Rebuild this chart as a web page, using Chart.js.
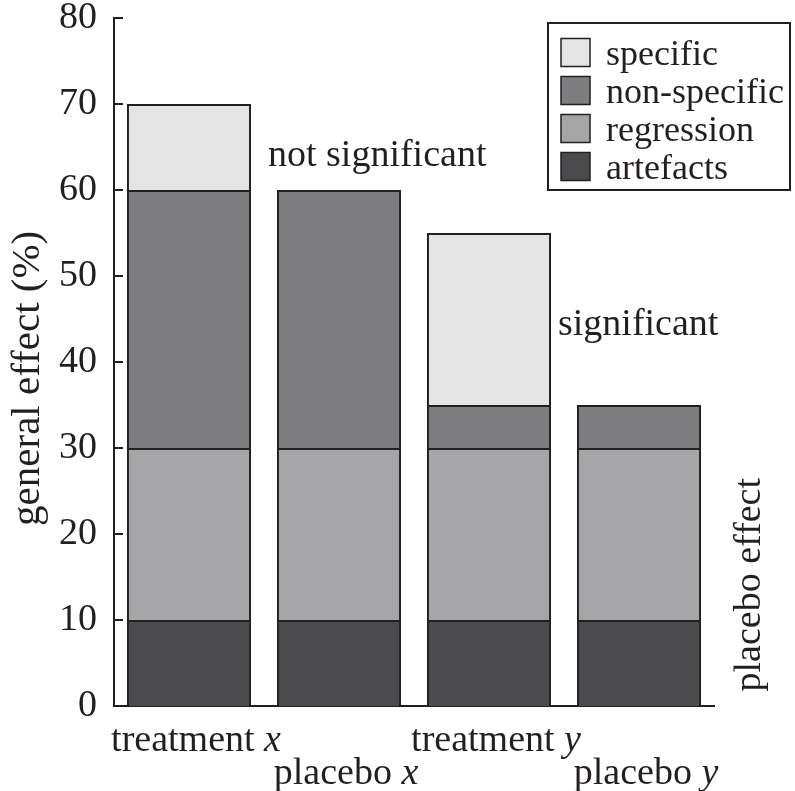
<!DOCTYPE html>
<html>
<head>
<meta charset="utf-8">
<script src="https://cdn.jsdelivr.net/npm/chart.js@4.4.1/dist/chart.umd.min.js"></script>
<style>
  body { margin: 0; background: #fff; }
  #wrap { width: 795px; height: 791px; }
</style>
</head>
<body>
<div id="wrap"><canvas id="myChart" width="795" height="791"></canvas></div>
<script>
// data
const categories = ['treatment', 'placebo', 'treatment', 'placebo']
const categoryVars = ['x', 'x', 'y', 'y']
const artefacts = [10, 10, 10, 10]
const regression = [20, 20, 20, 20]
const nonSpecific = [30, 30, 5, 5]
const specific = [10, 0, 20, 0]
const yTicks = [0, 10, 20, 30, 40, 50, 60, 70, 80]

const ink = '#231f20'
const serif = "'Liberation Serif', 'Times New Roman', serif"
const fontSize = 38

// little italic helper for "treatment x"
function drawLabel(ctx, word, v, cx, y) {
  ctx.font = fontSize + 'px ' + serif
  const w1 = ctx.measureText(word + ' ').width
  ctx.font = 'italic ' + fontSize + 'px ' + serif
  const w2 = ctx.measureText(v).width
  let x = cx - (w1 + w2) / 2
  ctx.font = fontSize + 'px ' + serif
  ctx.fillText(word + ' ', x, y)
  ctx.font = 'italic ' + fontSize + 'px ' + serif
  ctx.fillText(v, x + w1, y)
}

const extras = {
  id: 'extras',
  afterDraw(chart) {
    const ctx = chart.ctx
    const area = chart.chartArea
    const xs = chart.scales.x
    const ys = chart.scales.y
    ctx.save()
    ctx.fillStyle = ink
    ctx.strokeStyle = ink
    ctx.textBaseline = 'alphabetic'

    // inward ticks on y axis
    ctx.lineWidth = 2
    yTicks.forEach(t => {
      const py = ys.getPixelForValue(t)
      ctx.beginPath()
      ctx.moveTo(area.left, py)
      ctx.lineTo(area.left + 9, py)
      ctx.stroke()
    })

    // category labels, staggered
    categories.forEach((c, i) => {
      const cx = xs.getPixelForValue(i) + 7
      const y = area.bottom + (i % 2 === 0 ? 45 : 78)
      drawLabel(ctx, c, categoryVars[i], cx, y)
    })

    // annotations
    ctx.font = fontSize + 'px ' + serif
    ctx.textAlign = 'left'
    ctx.fillText('not significant', 268, ys.getPixelForValue(62.8))
    ctx.fillText('significant', 558, ys.getPixelForValue(43.1))

    ctx.save()
    ctx.translate(760, ys.getPixelForValue(14.1))
    ctx.rotate(-Math.PI / 2)
    ctx.textAlign = 'center'
    ctx.fillText('placebo effect', 0, 0)
    ctx.restore()

    // y title
    ctx.save()
    ctx.font = '41px ' + serif
    ctx.translate(39, ys.getPixelForValue(38.1))
    ctx.rotate(-Math.PI / 2)
    ctx.textAlign = 'center'
    ctx.fillText('general effect (%)', 0, 0)
    ctx.restore()

    // legend
    ctx.font = '36px ' + serif
    const lx = 548, ly = 23, lw = 242, lh = 167
    ctx.fillStyle = '#fff'
    ctx.fillRect(lx, ly, lw, lh)
    ctx.lineWidth = 2
    ctx.strokeRect(lx, ly, lw, lh)
    const ds = chart.data.datasets.slice().reverse()
    ds.forEach((d, i) => {
      const ry = ly + 29.5 + i * 38
      ctx.fillStyle = d.backgroundColor
      ctx.fillRect(561, ry - 14, 29, 28)
      ctx.lineWidth = 1.5
      ctx.strokeRect(561, ry - 14, 29, 28)
      ctx.fillStyle = ink
      ctx.fillText(d.label, 606, ry + 12.5)
    })
    ctx.restore()
  }
}

const ctx = document.getElementById('myChart')
// eslint-disable-next-line no-unused-vars
const myChart = new Chart(ctx, {
  type: 'bar',
  data: {
    labels: categories.map((c, i) => c + ' ' + categoryVars[i]),
    datasets: [
      { label: 'artefacts', data: artefacts, backgroundColor: '#4b4b4d' },
      { label: 'regression', data: regression, backgroundColor: '#a5a5a8' },
      { label: 'non-specific', data: nonSpecific, backgroundColor: '#7d7d80' },
      { label: 'specific', data: specific, backgroundColor: '#e4e4e4' }
    ].map(d => Object.assign(d, {
      borderColor: ink,
      borderWidth: 2,
      barPercentage: 0.827,
      categoryPercentage: 1
    }))
  },
  options: {
    responsive: false,
    animation: false,
    layout: { padding: { left: 0, right: 81, top: 18, bottom: 85 } },
    plugins: {
      legend: { display: false },
      tooltip: { enabled: false }
    },
    scales: {
      x: {
        stacked: true,
        grid: { display: false },
        border: { display: true, color: ink, width: 2 },
        ticks: { display: false },
        afterFit: s => { s.height = 0; s.paddingLeft = 0; s.paddingRight = 0 }
      },
      y: {
        stacked: true,
        min: 0,
        max: 80,
        grid: { display: false, drawTicks: false },
        border: { display: true, color: ink, width: 2 },
        ticks: {
          stepSize: 10,
          padding: 17,
          color: ink,
          font: { family: serif, size: fontSize }
        },
        afterFit: s => { s.width = 114; s.paddingTop = 0; s.paddingBottom = 0 }
      }
    }
  },
  plugins: [extras]
})
</script>
</body>
</html>
